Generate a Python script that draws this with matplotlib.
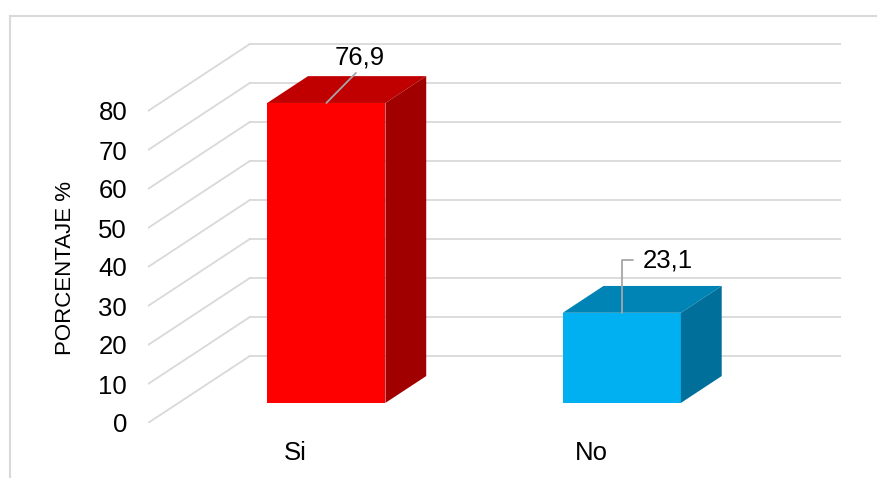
import matplotlib.pyplot as plt
from matplotlib.patches import Polygon
from matplotlib.lines import Line2D

plt.rcParams['font.family'] = ['Liberation Sans', 'DejaVu Sans']

categorias = ['Si', 'No']
porcentajes = [76.9, 23.1]
etiquetas = ['76,9', '23,1']
ticks_y = [0, 10, 20, 30, 40, 50, 60, 70, 80]

# colores (frente, tapa, lado)
col_frente = ['#FF0000', '#00B0F0']
col_tapa = ['#C00000', '#0083B5']
col_lado = ['#A00000', '#00709B']
gris = '#D9D9D9'

# pseudo 3D: desplazamiento de profundidad en unidades de datos
prof_x = 0.345
prof_y = 17.2
t0, t1 = 0.3, 0.7
ancho = 0.4

fig = plt.figure(figsize=(8.78, 4.78), dpi=100)
ax = fig.add_axes([148 / 878, 1 - 423 / 478, 693 / 878, 393 / 478])
ax.set_xlim(-0.5, -0.5 + 693 / 295.5)
ax.set_ylim(0, 393 / 3.9)
for s in ax.spines.values():
    s.set_visible(False)
ax.patch.set_alpha(0)

# rejilla: pared del fondo y pared lateral
x_ini, x_fin = -0.5, len(categorias) - 0.5
for v in ticks_y:
    ax.plot([x_ini + prof_x, x_fin + prof_x], [v + prof_y] * 2, color=gris, lw=1.3, zorder=1)
    ax.plot([x_ini, x_ini + prof_x], [v, v + prof_y], color=gris, lw=1.3, zorder=1)

# barras
dx = (t1 - t0) * prof_x
dy = (t1 - t0) * prof_y
for i, v in enumerate(porcentajes):
    xl = i - ancho / 2 + t0 * prof_x
    xr = xl + ancho
    base = t0 * prof_y
    tope = base + v
    ax.bar(xl, v, ancho, bottom=base, align='edge', color=col_frente[i], zorder=3)
    ax.add_patch(Polygon([(xl, tope), (xr, tope), (xr + dx, tope + dy), (xl + dx, tope + dy)],
                         closed=True, color=col_tapa[i], lw=0, zorder=3))
    ax.add_patch(Polygon([(xr, base), (xr + dx, base + dy), (xr + dx, tope + dy), (xr, tope)],
                         closed=True, color=col_lado[i], lw=0, zorder=3))

# etiquetas de datos con líneas guía
ax.annotate(etiquetas[0], xy=(0 + t0 * prof_x, porcentajes[0] + t0 * prof_y),
            xytext=(24, 33), textcoords='offset points', ha='center', va='center',
            fontsize=18.5, zorder=5,
            arrowprops=dict(arrowstyle='-', color='#A6A6A6', lw=1.3, shrinkA=1, shrinkB=0,
                            relpos=(0.5, 0)))
ax.annotate(etiquetas[1], xy=(1 + t0 * prof_x, porcentajes[1] + t0 * prof_y),
            xytext=(15, 38), textcoords='offset points', ha='left', va='center',
            fontsize=18.5, zorder=5,
            arrowprops=dict(arrowstyle='-', color='#A6A6A6', lw=1.3, shrinkA=5, shrinkB=0,
                            relpos=(0, 0.5),
                            connectionstyle='angle,angleA=0,angleB=90,rad=0'))

ax.set_yticks(ticks_y)
ax.set_yticklabels([str(t) for t in ticks_y], fontsize=18.5)
ax.set_xticks(range(len(categorias)))
ax.set_xticklabels(categorias, fontsize=18.5)
ax.tick_params(axis='y', length=0, pad=15)
ax.tick_params(axis='x', length=0, pad=13)
ax.set_ylabel('PORCENTAJE %', fontsize=16)
ax.yaxis.set_label_coords(-0.104, 0.394)

# borde del área del gráfico
fig.add_artist(Line2D([10 / 878, 1], [1 - 16 / 478] * 2, transform=fig.transFigure, color=gris, lw=1.5))
fig.add_artist(Line2D([10 / 878] * 2, [0, 1 - 16 / 478], transform=fig.transFigure, color=gris, lw=1.5))

fig.savefig('out.png', dpi=100)
